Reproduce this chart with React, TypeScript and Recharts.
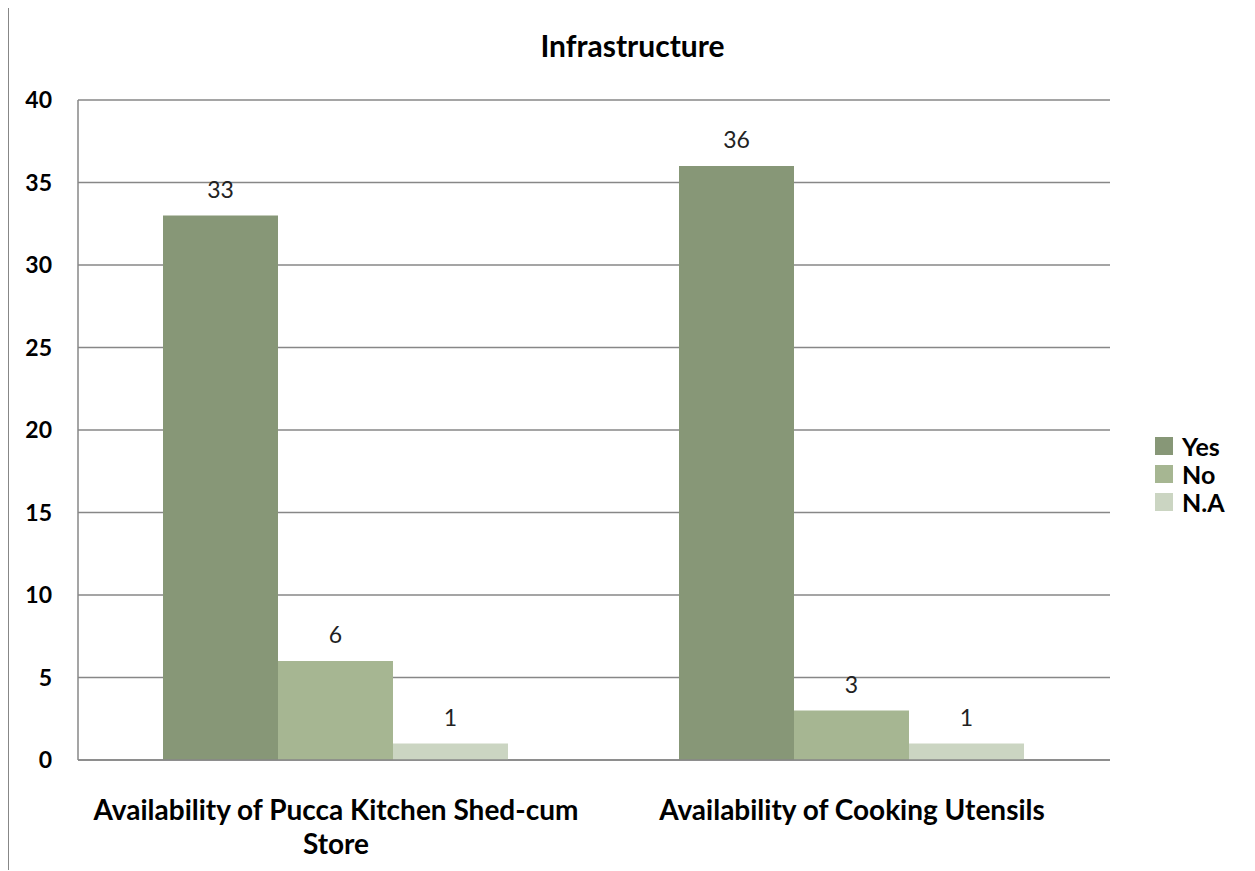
import { BarChart, Bar, XAxis, YAxis, CartesianGrid, Legend, LabelList } from "recharts";

const categories = ["Availability of Pucca Kitchen Shed-cum Store", "Availability of Cooking Utensils"];
const yesValues = [33, 36];
const noValues = [6, 3];
const naValues = [1, 1];
const yTicks = [0, 5, 10, 15, 20, 25, 30, 35, 40];

const series = [
  { key: "yes", name: "Yes", color: "#879777" },
  { key: "no", name: "No", color: "#a6b692" },
  { key: "na", name: "N.A", color: "#cbd5c2" },
];

const chartData = categories.map((name, i) => ({
  name,
  yes: yesValues[i],
  no: noValues[i],
  na: naValues[i],
}));

const FONT = "Lato, 'Open Sans', sans-serif";
const GRID = "#878787";

// word-wrap the long category names the way the original chart does
function wrapLabel(text: string, maxChars: number) {
  const lines: string[] = [];
  let cur = "";
  text.split(" ").forEach((w) => {
    const next = cur ? cur + " " + w : w;
    if (next.length > maxChars && cur) {
      lines.push(cur);
      cur = w;
    } else {
      cur = next;
    }
  });
  if (cur) lines.push(cur);
  return lines;
}

function CategoryTick({ x, y, payload }: any) {
  const lines = wrapLabel(String(payload.value), 40);
  return (
    <text
      x={x}
      y={y + 52}
      textAnchor="middle"
      fontSize={28}
      fontWeight={700}
      fontFamily={FONT}
      fill="#000"
    >
      {lines.map((l, i) => (
        <tspan key={i} x={x} dy={i === 0 ? 0 : 34}>
          {l}
        </tspan>
      ))}
    </text>
  );
}

function LegendContent() {
  return (
    <div style={{ fontFamily: FONT }}>
      {series.map((s) => (
        <div key={s.key} style={{ display: "flex", alignItems: "center", height: 28 }}>
          <span style={{ width: 18, height: 18, background: s.color, marginRight: 9 }} />
          <span style={{ fontSize: 25, lineHeight: "28px", fontWeight: 700, color: "#000" }}>{s.name}</span>
        </div>
      ))}
    </div>
  );
}

export default function App() {
  return (
    <div
      style={{
        position: "relative",
        width: 1247,
        height: 863,
        borderLeft: `1px solid ${GRID}`,
        borderTop: `1px solid ${GRID}`,
        boxSizing: "border-box",
        marginTop: -1,
      }}
    >
      <div
        style={{
          position: "absolute",
          top: 19,
          left: 0,
          width: 1247,
          textAlign: "center",
          fontFamily: FONT,
          fontWeight: 700,
          fontSize: 30,
          lineHeight: "36px",
          color: "#000",
        }}
      >
        Infrastructure
      </div>
      <BarChart
        width={1246}
        height={862}
        data={chartData}
        margin={{ top: 92, right: 145, bottom: 10, left: 9 }}
        barCategoryGap={85}
        barGap={0}
      >
        <CartesianGrid vertical={false} stroke={GRID} strokeWidth={1.5} />
        <XAxis
          dataKey="name"
          axisLine={{ stroke: GRID, strokeWidth: 1.5 }}
          tickLine={false}
          interval={0}
          height={100}
          tick={<CategoryTick />}
        />
        <YAxis
          domain={[0, 40]}
          ticks={yTicks}
          width={60}
          axisLine={{ stroke: GRID, strokeWidth: 1.5 }}
          tickLine={false}
          tickSize={0}
          tickMargin={26}
          tick={{ fontSize: 23, fontWeight: 700, fontFamily: FONT, fill: "#000" }}
        />
        <Legend
          layout="vertical"
          align="center"
          verticalAlign="middle"
          content={<LegendContent />}
          wrapperStyle={{ left: 1146, top: 424, width: 100 }}
        />
        {series.map((s) => (
          <Bar key={s.key} dataKey={s.key} name={s.name} fill={s.color} isAnimationActive={false}>
            <LabelList
              dataKey={s.key}
              position="top"
              offset={18}
              style={{ fontSize: 23, fontFamily: FONT, fill: "#222" }}
            />
          </Bar>
        ))}
      </BarChart>
    </div>
  );
}
